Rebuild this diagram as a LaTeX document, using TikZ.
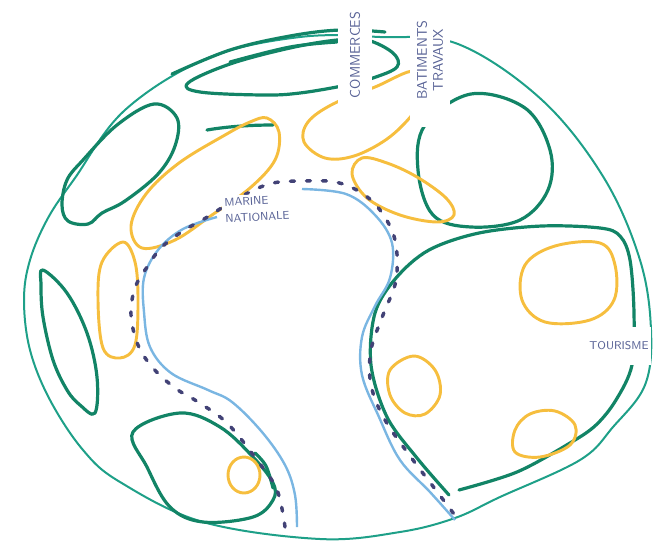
\documentclass[tikz,border=0pt]{standalone}
\usepackage{tikz}

\definecolor{bordteal}{RGB}{30,160,136}
\definecolor{zonegreen}{RGB}{18,132,102}
\definecolor{zoneyellow}{RGB}{246,190,62}
\definecolor{canalblue}{RGB}{122,182,226}
\definecolor{quainavy}{RGB}{66,66,118}
\definecolor{inkblue}{RGB}{88,98,150}

\begin{document}
\begin{tikzpicture}[x=0.75pt,y=0.75pt,yscale=-1,xscale=1,
  outerline/.style={draw=bordteal, line width=1.5pt},
  zone/.style={draw=zonegreen, line width=2.4pt, line join=round, line cap=round},
  yzone/.style={draw=zoneyellow, line width=2.2pt, line cap=round},
  canal/.style={draw=canalblue, line width=1.8pt},
  quai/.style={draw=quainavy, line width=2.6pt, dash pattern=on 3pt off 9pt, line cap=round},
  lbl/.style={fill=white, text=inkblue, font=\sffamily\fontsize{10.5}{12}\selectfont, align=center, inner sep=2pt}]
\path[use as bounding box] (0,0) rectangle (654,544);

%Shape: outer limit
\draw [outerline] plot [smooth cycle, tension=0.6] coordinates {(380,37) (458,44) (542,100) (604,178) (640,260) (651,330) (645,385) (613,427) (580,460) (500,497) (455,518) (400,532) (320,539) (203,522) (120,482) (83,450) (50,400) (30,350) (24,300) (30,260) (48,218) (75,178) (125,110) (208,58) (300,37)};
%Straight Lines: retraced top
\draw [zone] plot [smooth, tension=0.6] coordinates {(172,74) (230,50) (290,36) (340,30) (385,32)};

%Shape: top loop
\draw [zone] plot [smooth cycle, tension=0.6] coordinates {(188,83) (230,64) (290,48) (337,40) (367,40) (393,53) (397,67) (373,78) (347,85) (300,93) (263,95) (200,92)};
\draw [zone] plot [smooth, tension=0.6] coordinates {(230,62) (290,47) (337,42)};
%Shape: top left
\draw [zone] plot [smooth cycle, tension=0.6] coordinates {(154,104) (177,118) (175,146) (158,174) (125,201) (102,213) (88,224) (68,221) (62,205) (67,180) (83,160) (117,125)};
%Shape: left lens
\draw [zone] plot [smooth cycle, tension=0.6] coordinates {(43,270) (67,293) (87,333) (97,377) (95,413) (80,405) (67,390) (53,360) (43,317) (41,285)};
%Shape: bottom left
\draw [zone] plot [smooth cycle, tension=0.6] coordinates {(133,432) (180,413) (220,427) (253,457) (273,483) (273,500) (253,517) (203,522) (170,507) (147,467)};
\draw [zone] plot [smooth, tension=0.6] coordinates {(255,453) (266,466) (273,488)};
%Shape: top right
\draw [zone] plot [smooth cycle, tension=0.6] coordinates {(471,94) (525,108) (550,150) (548,190) (520,220) (471,227) (433,215) (418,170) (425,125)};
%Shape: big right zone
\draw [zone] plot [smooth, tension=0.55] coordinates {(449,495) (417,458) (387,417) (371,365) (375,313) (396,278) (429,250) (479,233) (542,226) (600,228) (620,236) (630,260) (634,313) (632,365) (616,400) (596,425) (570,443) (517,472) (459,490)};
%Straight Lines: small stroke
\draw [zone] (207,130) .. controls (230,126) and (255,125) .. (273,125);

%Shape: yellow zones
\draw [yzone] plot [smooth cycle, tension=0.6] coordinates {(267,118) (279,132) (275,160) (250,188) (212,215) (175,240) (142,248) (131,226) (146,194) (179,163) (225,135) (250,122)};
\draw [yzone] plot [smooth cycle, tension=0.6] coordinates {(415,71) (375,87) (333,104) (308,122) (304,142) (325,158) (354,156) (387,139) (412,115) (423,95)};
\draw [yzone] plot [smooth cycle, tension=0.6] coordinates {(362,158) (387,163) (417,177) (446,198) (454,215) (437,222) (400,215) (367,198) (352,174)};
\draw [yzone] plot [smooth cycle, tension=0.6] coordinates {(123,242) (135,262) (138,300) (135,345) (120,358) (103,348) (98,300) (102,262)};
\draw [yzone] plot [smooth cycle, tension=0.6] coordinates {(600,243) (615,265) (614,300) (590,320) (545,322) (522,300) (525,265) (555,246)};
\draw [yzone] plot [smooth cycle, tension=0.6] coordinates {(414,356) (435,370) (440,395) (425,414) (405,413) (390,395) (390,370)};
\draw [yzone] plot [smooth cycle, tension=0.6] coordinates {(555,411) (575,425) (570,445) (540,457) (515,452) (515,430) (530,414)};
\draw [yzone] (244,475) ellipse (16 and 18);

%Straight Lines: canal banks
\draw [canal] plot [smooth, tension=0.6] coordinates {(217,217) (183,229) (158,250) (144,278) (144,312) (150,347) (171,373) (208,390) (232,402) (262,432) (285,465) (295,495) (297,527)};
\draw [canal] plot [smooth, tension=0.6] coordinates {(302,189) (346,194) (375,215) (392,243) (390,278) (375,306) (362,337) (362,375) (379,417) (400,460) (430,492) (455,520)};
%Straight Lines: quays
\draw [quai] plot [smooth, tension=0.6] coordinates {(285,527) (277,490) (257,460) (227,423) (198,402) (175,388) (153,368) (138,345) (131,315) (135,288) (147,267) (162,247) (183,231) (204,219) (235,200) (269,184) (302,181) (335,182) (360,192) (380,210) (395,240) (396,280) (383,315) (371,350) (371,385) (385,420) (413,460) (432,485) (457,518)};

% Text Node
\node [lbl, rotate=90, minimum width=100, minimum height=26] (commerces) at (355,55) {COMMERCES};
% Text Node
\node [lbl, rotate=90, minimum width=100, minimum height=30] (batiments) at (430,60) {BATIMENTS\\TRAVAUX};
% Text Node
\node [lbl, rotate=3, font=\sffamily\fontsize{8.5}{12}\selectfont, align=left] (marine) at (257,209) {MARINE\\NATIONALE};
% Text Node
\node [lbl, font=\sffamily\fontsize{8.5}{9}\selectfont, minimum height=28] (tourisme) at (619,346) {TOURISME};

\end{tikzpicture}
\end{document}
